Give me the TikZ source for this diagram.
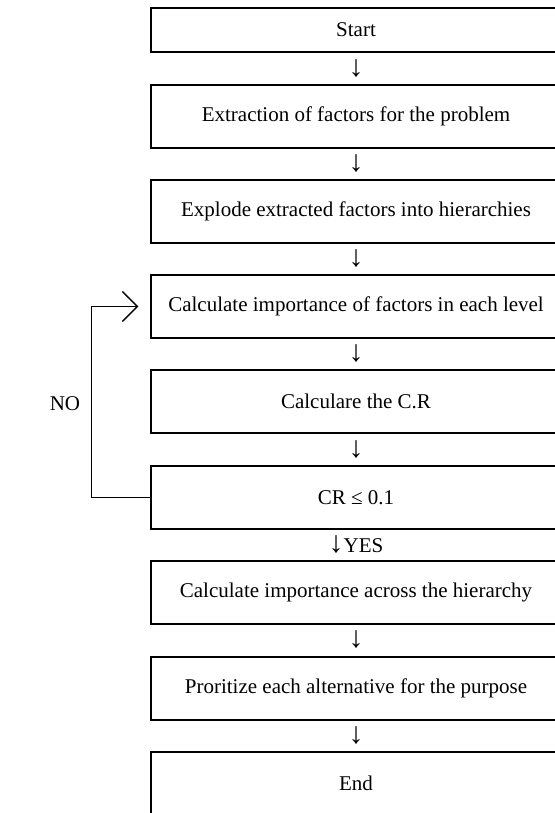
\documentclass[tikz,border=0pt]{standalone}
\usepackage{fontspec}
\setmainfont{Liberation Serif}
\usetikzlibrary{arrows.meta}
\newcommand{\dnarrow}{{\fontsize{15pt}{15pt}\selectfont ↓}}

\begin{document}
\begin{tikzpicture}[x=0.5pt, y=-0.5pt,
    stepbox/.style={draw, line width=0.7pt, minimum width=205pt, minimum height=31.5pt,
                    inner sep=0pt, font=\fontsize{10.5pt}{12pt}\selectfont},
    downmark/.style={inner sep=0pt, font=\fontsize{10.5pt}{12pt}\selectfont},
    loopline/.style={line width=0.7pt, -{Straight Barb[length=7.5pt, width=15pt]}, shorten >=6pt}]

      \useasboundingbox (0,0) rectangle (555,813);
      \clip (0,0) rectangle (555,813);

      % Boxes
      \node[stepbox, minimum height=22pt] (b1) at (356, 30) {Start};
      \node[stepbox] (b2) at (356, 116.5) {Extraction of factors for the problem};
      \node[stepbox] (b3) at (356, 211.5) {Explode extracted factors into hierarchies};
      \node[stepbox] (b4) at (356, 306.5) {Calculate importance of factors in each level};
      \node[stepbox] (b5) at (356, 401.5) {Calculare the C.R};
      \node[stepbox] (b6) at (356, 497.5) {CR ≤ 0.1};
      \node[stepbox] (b7) at (356, 592.5) {Calculate importance across the hierarchy};
      \node[stepbox] (b8) at (356, 688.5) {Proritize each alternative for the purpose};
      \node[stepbox] (b9) at (356, 783.5) {End};

      % Arrows between boxes
      \node[downmark] (d1) at (356, 68.5) {\dnarrow};
      \node[downmark] (d2) at (356, 164) {\dnarrow};
      \node[downmark] (d3) at (356, 259) {\dnarrow};
      \node[downmark] (d4) at (356, 354) {\dnarrow};
      \node[downmark] (d5) at (356, 449.5) {\dnarrow};
      \node[downmark] (d6) at (356, 545) {\dnarrow YES};
      \node[downmark] (d7) at (356, 640) {\dnarrow};
      \node[downmark] (d8) at (356, 736) {\dnarrow};

      % Loop back
      \draw[loopline] (b6.west) -- ++(-59,0) |- (b4.west);
      \node[downmark] (no) at (65, 404) {NO};
    \end{tikzpicture}
\end{document}
